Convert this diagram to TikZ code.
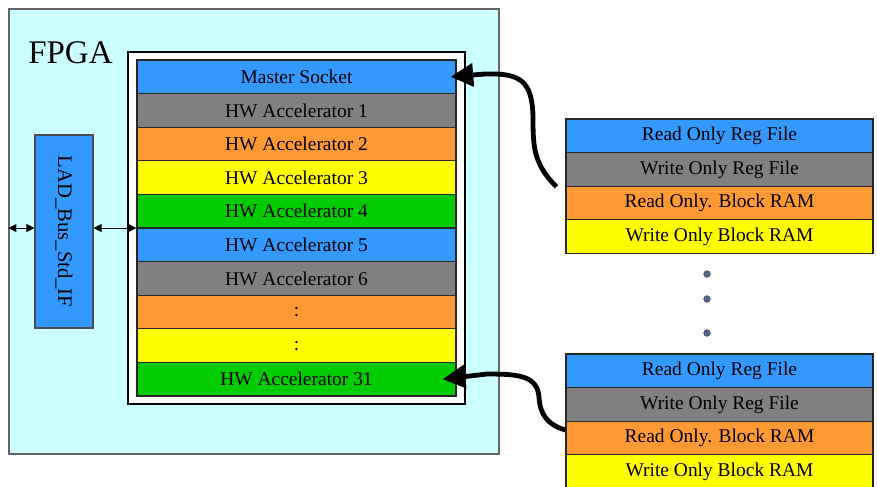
\documentclass[tikz,border=0pt]{standalone}
\usepackage{fontspec}
\setmainfont{Liberation Serif}
\usepackage{tikz}
\usetikzlibrary{arrows.meta}
\definecolor{acB}{HTML}{3399FF}
\definecolor{acG}{HTML}{808080}
\definecolor{acO}{HTML}{FF9933}
\definecolor{acY}{HTML}{FFFF00}
\definecolor{acN}{HTML}{00CC00}
\definecolor{acC}{HTML}{CCFFFF}
\definecolor{acD}{HTML}{4A6A8C}
\tikzset{
 slot/.style={draw=black!85,line width=0.9pt,minimum width=239.25pt,minimum height=25.2pt,inner sep=0pt,font=\fontsize{14.6}{17}\selectfont},
 regrow/.style={slot,minimum width=230.25pt},
 bigarrow/.style={line width=3.6pt,-{Triangle[length=17pt,width=17pt]}},
 busarrow/.style={line width=0.75pt,{Triangle[length=6pt,width=6pt]}-{Triangle[length=6pt,width=6pt]}},
 dotmark/.style={circle,draw=black!70,fill=acD,inner sep=0pt,minimum size=5pt,line width=0.4pt}
}

\begin{document}
\begin{tikzpicture}[x=0.75pt,y=-0.75pt]
\def\rh{33.6}
\clip (0,0) rectangle (877,486);
\fill[white] (0,0) rectangle (877,486);
\node[draw=black!60,fill=acC,line width=0.8pt,minimum width=367.5pt,minimum height=333.75pt,inner sep=0pt] (fpga) at (254,231.5) {};
\node[anchor=base west,inner sep=0pt,font=\fontsize{24.75}{28}\selectfont] (title) at (28,63) {FPGA};
\node[draw=black,fill=white,line width=0.9pt,minimum width=252.75pt,minimum height=264pt,inner sep=0pt] (frame) at (296.5,228) {};
\foreach \col/\t [count=\i] in {acB/Master Socket,acG/HW Accelerator 1,acO/HW Accelerator 2,acY/HW Accelerator 3,acN/HW Accelerator 4,acB/HW Accelerator 5,acG/HW Accelerator 6,acO/:,acY/:,acN/HW Accelerator 31}
  \node[slot,fill=\col] (s\i) at (296.5,{60+\rh*(\i-0.5)}) {\t};
\node[draw=black!70,fill=acB,rotate=-90,line width=0.8pt,minimum width=144.75pt,minimum height=43.5pt,inner sep=0pt,font=\fontsize{15.5}{18}\selectfont] (lad) at (64,231.5) {LAD\_Bus\_Std\_IF};
\coordinate (busL) at ([yshift=2.6pt]lad.south);
\coordinate (busR) at ([yshift=2.6pt]lad.north);
\draw[busarrow] (busL -| fpga.west) -- (busL);
\draw[busarrow] (busR) -- (busR -| s1.west);
\foreach \col/\t [count=\i] in {acB/Read Only Reg File,acG/Write Only Reg File,acO/Read Only. Block RAM,acY/Write Only Block RAM}{
  \node[regrow,fill=\col] (ra\i) at (719.5,{119+\rh*(\i-0.5)}) {\t};
  \node[regrow,fill=\col] (rb\i) at (719.5,{354+\rh*(\i-0.5)}) {\t};
}
\foreach \y [count=\i] in {274,299,333} \node[dotmark] (dot\i) at (707,\y) {};
\coordinate (fromA) at ([xshift=-6.75pt]ra2.south west);
\coordinate (fromB) at ([yshift=6pt]rb3.west);
\draw[bigarrow] (fromA) .. controls (535,165) and (533,150) .. (533,120) .. controls (533,80) and (520,73) .. (485,74) -- ([xshift=-4.5pt]s1.east);
\draw[bigarrow] (fromB) .. controls (548,425) and (540,415) .. (539,397) .. controls (537,376) and (520,374) .. (487,374) -- ([xshift=-10.5pt]s10.east);
\end{tikzpicture}
\end{document}
